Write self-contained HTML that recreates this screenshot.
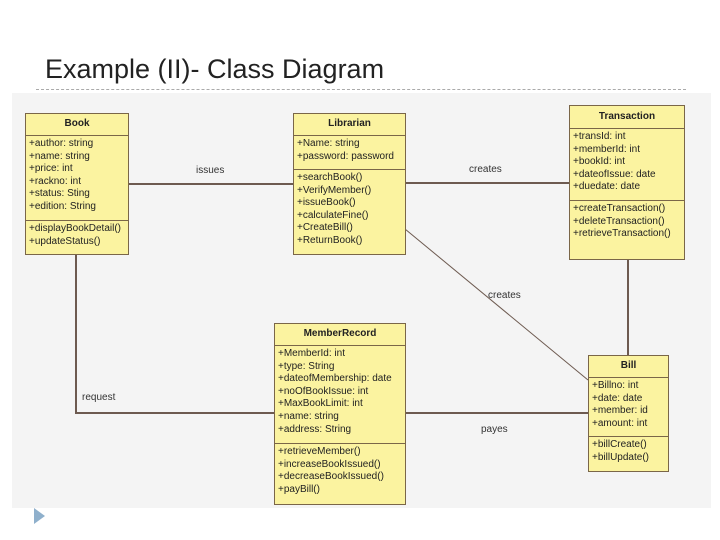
<!DOCTYPE html>
<html><head><style>
body{margin:0;width:720px;height:540px;background:#fff;position:relative;overflow:hidden;font-family:"Liberation Sans",sans-serif}
.t{position:absolute;left:45px;top:54px;font-size:27px;color:#222}
.dash{position:absolute;left:36px;top:89px;width:650px;border-top:1px dashed #aaa}
.bg{position:absolute;left:12px;top:93px;width:699px;height:415px;background:#f4f4f4}
.c{position:absolute;background:#fbf3a0;border:1.5px solid #7a6648;box-sizing:border-box;font-size:10px;color:#222;line-height:12.6px}
.c .h{font-weight:bold;text-align:center;border-bottom:1.5px solid #7a6648;box-sizing:border-box}
.c .s{border-bottom:1.5px solid #7a6648;padding:2px 3px;box-sizing:border-box}
.c .m{padding:2px 3px}
.l{position:absolute;font-size:10px;color:#333}
svg{position:absolute;left:0;top:0}
</style></head><body>
<div class="t">Example (II)- Class Diagram</div>
<div class="dash"></div>
<div class="bg"></div>
<svg width="720" height="540"><g stroke="#6d5a50" stroke-width="2" fill="none">
<line x1="128" y1="184" x2="293" y2="184"/>
<line x1="405" y1="183" x2="569" y2="183"/>
<line x1="405" y1="229" x2="588" y2="380" stroke-width="1"/>
<line x1="628" y1="259" x2="628" y2="355"/>
<polyline points="76,254 76,413 274,413"/>
<line x1="405" y1="413" x2="588" y2="413"/>
</g>
<polygon points="34,508 45,516 34,524" fill="#8fb0cc"/></svg>
<div class="l" style="left:196px;top:165px">issues</div>
<div class="l" style="left:469px;top:164px">creates</div>
<div class="l" style="left:488px;top:290px">creates</div>
<div class="l" style="left:82px;top:392px">request</div>
<div class="l" style="left:481px;top:424px">payes</div>

<div class="c" style="left:25px;top:113px;width:104px;height:142px">
<div class="h" style="height:22px;line-height:20px">Book</div>
<div class="s" style="height:85px">+author: string<br>+name: string<br>+price: int<br>+rackno: int<br>+status: Sting<br>+edition: String</div>
<div class="m">+displayBookDetail()<br>+updateStatus()</div></div>

<div class="c" style="left:293px;top:113px;width:113px;height:142px">
<div class="h" style="height:22px;line-height:20px">Librarian</div>
<div class="s" style="height:34px">+Name: string<br>+password: password</div>
<div class="m">+searchBook()<br>+VerifyMember()<br>+issueBook()<br>+calculateFine()<br>+CreateBill()<br>+ReturnBook()</div></div>

<div class="c" style="left:569px;top:105px;width:116px;height:155px">
<div class="h" style="height:23px;line-height:21px">Transaction</div>
<div class="s" style="height:72px">+transId: int<br>+memberId: int<br>+bookId: int<br>+dateofIssue: date<br>+duedate: date</div>
<div class="m">+createTransaction()<br>+deleteTransaction()<br>+retrieveTransaction()</div></div>

<div class="c" style="left:274px;top:323px;width:132px;height:182px">
<div class="h" style="height:22px;line-height:20px">MemberRecord</div>
<div class="s" style="height:98px">+MemberId: int<br>+type: String<br>+dateofMembership: date<br>+noOfBookIssue: int<br>+MaxBookLimit: int<br>+name: string<br>+address: String</div>
<div class="m">+retrieveMember()<br>+increaseBookIssued()<br>+decreaseBookIssued()<br>+payBill()</div></div>

<div class="c" style="left:588px;top:355px;width:81px;height:117px">
<div class="h" style="height:22px;line-height:20px">Bill</div>
<div class="s" style="height:59px">+Billno: int<br>+date: date<br>+member: id<br>+amount: int</div>
<div class="m">+billCreate()<br>+billUpdate()</div></div>
</body></html>
